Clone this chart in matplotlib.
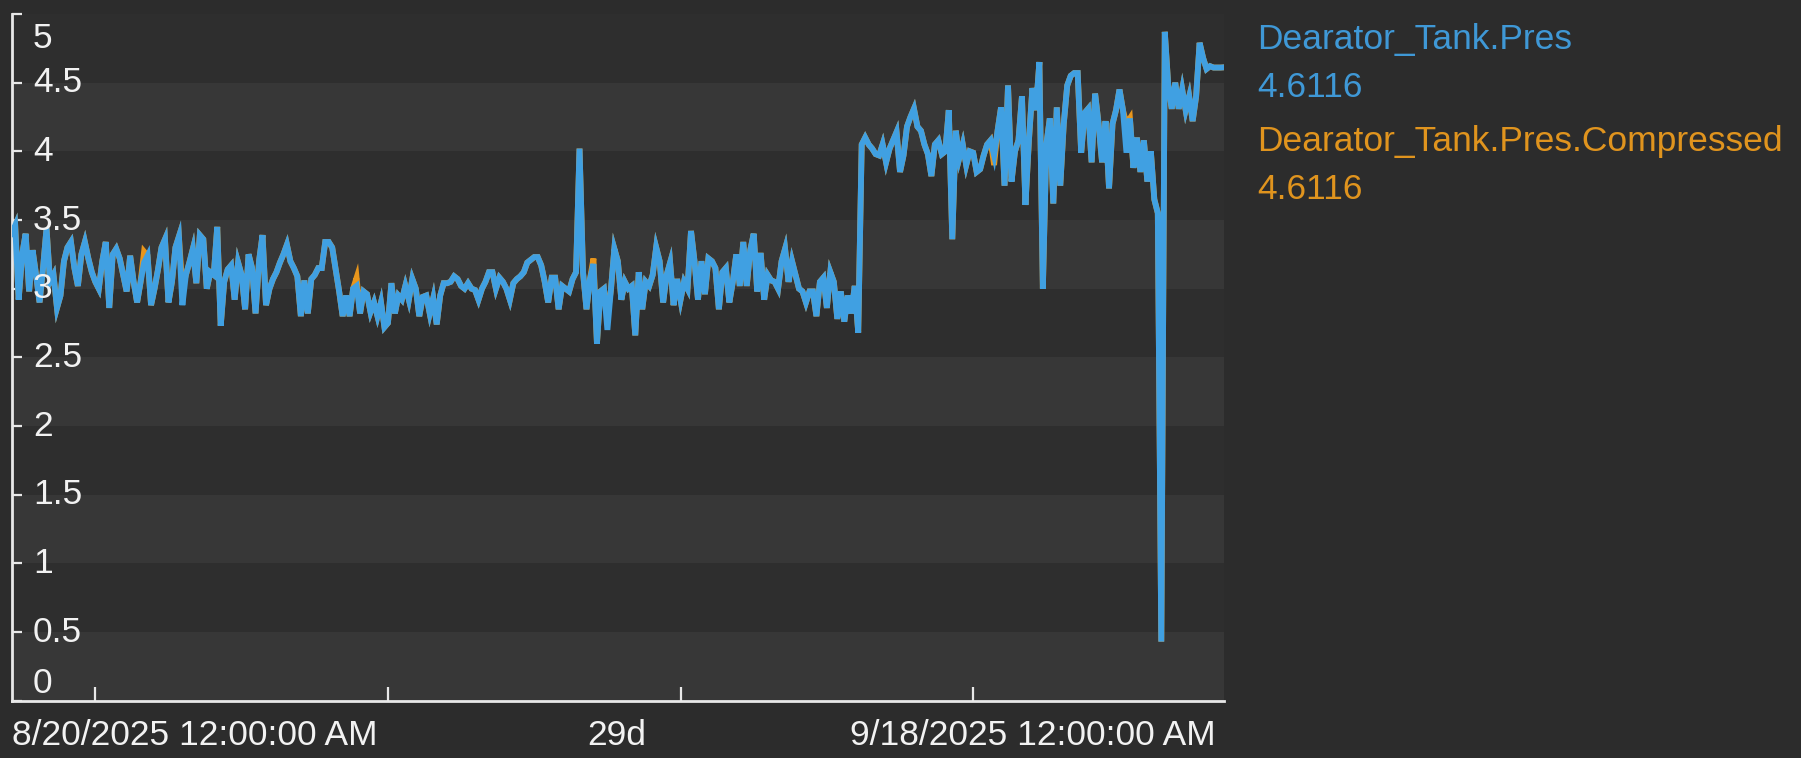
import matplotlib
matplotlib.use('Agg')
import matplotlib.pyplot as plt
import matplotlib.transforms as mtransforms
import pandas as pd

plt.rcParams['font.family'] = ['Liberation Sans', 'DejaVu Sans']

# ---------------- data ----------------
series_names = ['Dearator_Tank.Pres', 'Dearator_Tank.Pres.Compressed']
current_values = ['4.6116', '4.6116']
start_label = '8/20/2025 12:00:00 AM'
end_label = '9/18/2025 12:00:00 AM'
span_label = '29d'
start_time = '2025-08-20 00:00'
sample_step = '2h'

# Dearator_Tank.Pres, one row per day (2-hour samples), plus the final value
pres = [
    3.40, 3.46, 2.92, 3.25, 3.40, 2.98, 3.28, 3.10, 2.90, 3.15, 3.44, 3.05,
    3.10, 2.86, 2.95, 3.20, 3.30, 3.34, 3.15, 3.02, 3.25, 3.34, 3.22, 3.12,
    3.05, 3.00, 3.20, 3.34, 2.86, 3.25, 3.29, 3.22, 3.10, 2.98, 3.24, 3.05,
    2.90, 3.05, 3.19, 3.24, 2.88, 3.00, 3.14, 3.30, 3.36, 2.90, 3.05, 3.30,
    3.38, 2.88, 3.10, 3.19, 3.29, 3.04, 3.39, 3.36, 3.00, 3.12, 3.10, 3.45,
    2.73, 3.05, 3.14, 3.17, 2.92, 3.19, 3.10, 2.85, 3.25, 3.15, 2.82, 3.20,
    3.39, 2.88, 3.00, 3.07, 3.12, 3.19, 3.25, 3.32, 3.20, 3.15, 3.09, 2.80,
    3.06, 2.82, 3.07, 3.10, 3.15, 3.15, 3.34, 3.34, 3.30, 3.14, 2.98, 2.80,
    2.95, 2.80, 3.00, 3.02, 2.82, 2.98, 2.96, 2.83, 2.90, 2.80, 2.90, 2.72,
    2.75, 3.04, 2.82, 2.95, 2.92, 3.02, 2.92, 3.07, 3.00, 2.80, 2.94, 2.95,
    2.82, 2.93, 2.74, 2.95, 3.04, 3.04, 3.05, 3.09, 3.07, 3.02, 3.00, 3.04,
    3.00, 2.99, 2.92, 3.00, 3.05, 3.12, 3.12, 3.00, 3.08, 3.05, 3.00, 2.92,
    3.04, 3.07, 3.09, 3.12, 3.19, 3.21, 3.23, 3.23, 3.17, 3.05, 2.90, 3.08,
    3.08, 2.85, 3.02, 3.00, 2.98, 3.07, 3.12, 4.02, 3.12, 2.85, 3.07, 3.18,
    2.60, 2.98, 3.00, 2.70, 2.99, 3.29, 3.20, 2.92, 3.05, 3.00, 3.02, 2.66,
    3.12, 2.85, 3.05, 3.02, 3.10, 3.30, 3.20, 2.90, 3.10, 3.19, 2.88, 3.07,
    2.92, 3.05, 3.00, 3.42, 3.20, 2.92, 3.20, 2.96, 3.22, 3.20, 3.15, 2.85,
    3.12, 3.15, 2.90, 3.05, 3.25, 3.02, 3.34, 3.02, 3.28, 3.40, 2.98, 3.26,
    2.92, 3.10, 3.06, 3.05, 3.00, 3.20, 3.29, 3.05, 3.20, 3.10, 3.00, 2.98,
    2.90, 2.98, 2.98, 2.80, 3.05, 3.08, 2.86, 3.12, 3.05, 2.78, 2.98, 2.76,
    2.95, 2.82, 3.02, 2.68, 4.05, 4.10, 4.05, 4.02, 3.98, 3.97, 4.05, 3.92,
    4.02, 4.08, 4.14, 3.85, 3.97, 4.18, 4.25, 4.31, 4.18, 4.15, 4.05, 3.98,
    3.82, 4.05, 4.08, 3.98, 4.00, 4.30, 3.36, 4.15, 3.95, 4.05, 3.90, 4.00,
    3.99, 3.85, 3.87, 3.97, 4.05, 4.08, 3.97, 4.15, 4.32, 3.75, 4.48, 3.78,
    4.00, 4.08, 4.40, 3.61, 4.08, 4.46, 4.30, 4.65, 3.00, 4.05, 4.24, 3.62,
    4.32, 3.75, 4.20, 4.48, 4.55, 4.57, 4.57, 3.99, 4.28, 4.31, 3.92, 4.42,
    4.20, 3.92, 4.22, 3.73, 4.20, 4.30, 4.45, 4.30, 3.99, 4.24, 3.88, 4.10,
    3.85, 4.08, 3.78, 4.00, 3.65, 3.55, 0.43, 4.87, 4.48, 4.31, 4.50, 4.31,
    4.45, 4.30, 4.40, 4.22, 4.40, 4.79, 4.68, 4.60, 4.62, 4.61, 4.61, 4.61,
    4.6116,
]

# Compressed series: same samples except where it visibly differs
comp_changes = {38: 3.27, 49: 3.00, 99: 3.08, 167: 3.22, 171: 2.80,
                282: 3.90, 320: 4.20}

y_ticks = [0, 0.5, 1, 1.5, 2, 2.5, 3, 3.5, 4, 4.5, 5]
y_tick_labels = ['0', '0.5', '1', '1.5', '2', '2.5', '3', '3.5', '4', '4.5', '5']
x_tick_dates = ['2025-08-22', '2025-08-29', '2025-09-05', '2025-09-12']

# ---------------- style ----------------
W, H = 1801, 758
BG = '#2c2c2c'
BAND_DARK = '#2e2e2e'
BAND_LIGHT = '#373737'
AXIS_COLOR = '#e8e8e8'
TEXT_COLOR = '#f2f2f2'
BLUE = '#40a0e2'
ORANGE = '#e8961c'
BLUE_TXT = '#3f98d6'
ORANGE_TXT = '#e0941e'
FS = 25.5

times = pd.date_range(start=start_time, periods=len(pres), freq=sample_step)
comp = list(pres)
for i, v in comp_changes.items():
    comp[i] = v

fig = plt.figure(figsize=(W / 100, H / 100), dpi=100, facecolor=BG)
ax = fig.add_axes([11.7 / W, 1 - 700.7 / H, (1224 - 11.7) / W, (700.7 - 14) / H])
ax.set_facecolor(BAND_DARK)

# alternating horizontal bands
for k in range(len(y_ticks) - 1):
    ax.axhspan(y_ticks[k], y_ticks[k + 1],
               color=BAND_LIGHT if k % 2 == 0 else BAND_DARK, lw=0, zorder=0)

ax.plot(times, comp, color=ORANGE, lw=4.2, solid_joinstyle='miter', zorder=2)
ax.plot(times, pres, color=BLUE, lw=4.2, solid_joinstyle='miter', zorder=3)

ax.set_xlim(times[0], times[-1])
ax.set_ylim(0, 5)

for s in ['top', 'right']:
    ax.spines[s].set_visible(False)
for s in ['left', 'bottom']:
    ax.spines[s].set_color(AXIS_COLOR)
    ax.spines[s].set_linewidth(2.0)

ax.set_yticks(y_ticks)
ax.set_yticklabels([''] * len(y_ticks))
ax.tick_params(axis='y', direction='in', length=7.5, width=1.6, color=AXIS_COLOR)
ax.set_xticks(pd.to_datetime(x_tick_dates))
ax.set_xticklabels([''] * len(x_tick_dates))
ax.tick_params(axis='x', direction='in', length=10, width=1.6, color=AXIS_COLOR)

# y labels inside the axes
ytrans = ax.get_yaxis_transform()
lx = (33 - 11.7) / (1224 - 11.7)
for v, lab in zip(y_ticks, y_tick_labels):
    if v == 0:
        tr = mtransforms.offset_copy(ytrans, fig=fig, x=0, y=1, units='dots')
        ax.text(lx, v, lab, transform=tr, ha='left', va='bottom', color=TEXT_COLOR, fontsize=FS, zorder=5)
    elif v == 5:
        tr = mtransforms.offset_copy(ytrans, fig=fig, x=0, y=-8, units='dots')
        ax.text(lx, v, lab, transform=tr, ha='left', va='top', color=TEXT_COLOR, fontsize=FS, zorder=5)
    else:
        ax.text(lx, v, lab, transform=ytrans, ha='left', va='center', color=TEXT_COLOR, fontsize=FS, zorder=5)

# x labels: start, span, end
yb = 1 - 745 / H
fig.text(12 / W, yb, start_label, ha='left', va='baseline', color=TEXT_COLOR, fontsize=FS)
fig.text(617 / W, yb, span_label, ha='center', va='baseline', color=TEXT_COLOR, fontsize=FS)
fig.text(1216 / W, yb, end_label, ha='right', va='baseline', color=TEXT_COLOR, fontsize=FS)

# legend
lx0 = 1257 / W
fig.text(lx0, 1 - 49 / H, series_names[0], color=BLUE_TXT, fontsize=FS, va='baseline')
fig.text(lx0, 1 - 97 / H, current_values[0], color=BLUE_TXT, fontsize=FS, va='baseline')
fig.text(lx0, 1 - 151 / H, series_names[1], color=ORANGE_TXT, fontsize=FS, va='baseline')
fig.text(lx0, 1 - 199 / H, current_values[1], color=ORANGE_TXT, fontsize=FS, va='baseline')

fig.savefig('out.png', dpi=100, facecolor=BG)
